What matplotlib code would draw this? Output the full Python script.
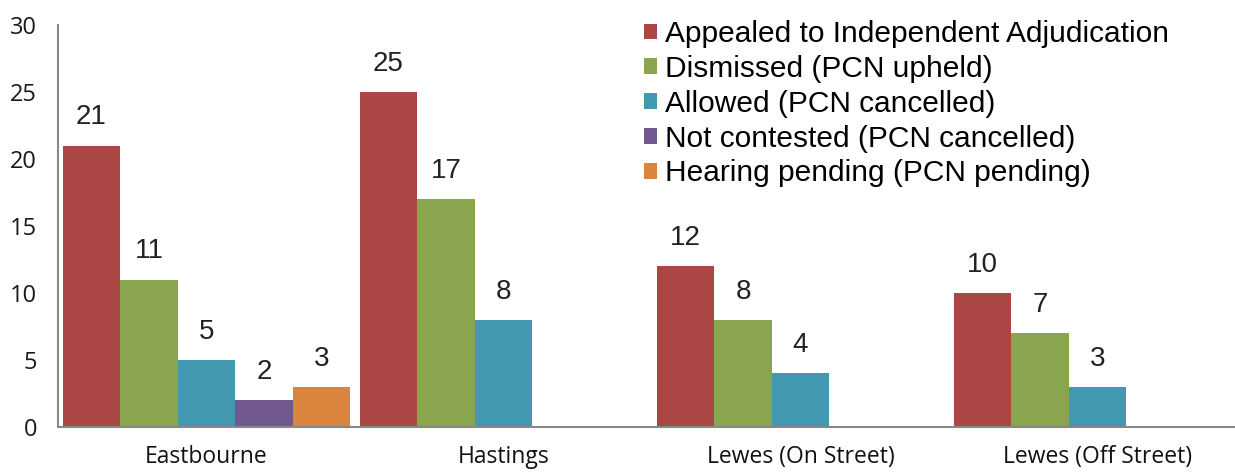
import numpy as np
import matplotlib.pyplot as plt

categories = ['Eastbourne', 'Hastings', 'Lewes (On Street)', 'Lewes (Off Street)']
series = ['Appealed to Independent Adjudication', 'Dismissed (PCN upheld)',
          'Allowed (PCN cancelled)', 'Not contested (PCN cancelled)',
          'Hearing pending (PCN pending)']
appealed = [21, 25, 12, 10]
dismissed = [11, 17, 8, 7]
allowed = [5, 8, 4, 3]
not_contested = [2, np.nan, np.nan, np.nan]
pending = [3, np.nan, np.nan, np.nan]
values = [appealed, dismissed, allowed, not_contested, pending]
colors = ['#AA4643', '#89A54E', '#4198AF', '#71588F', '#DB843D']

fig = plt.figure(figsize=(12.35, 4.73), dpi=100)
ax = fig.add_axes([58 / 1235, 46 / 473, 1188 / 1235, 402 / 473])

x = np.arange(len(categories))
w = 0.1936
for i, (name, vals, c) in enumerate(zip(series, values, colors)):
    pos = x + (i - 2) * w
    ax.bar(pos, vals, w, color=c, label=name)
    for p, v in zip(pos, vals):
        if not np.isnan(v):
            ax.annotate(f'{v:g}', (p, v), xytext=(0, 11), textcoords='offset points',
                        ha='center', va='bottom', fontsize=20, family='Liberation Sans',
                        color='#222222')

ax.set_xlim(-0.5, 3.5)
ax.set_ylim(0, 30)
ax.set_yticks(range(0, 31, 5))
ax.set_xticks(x)
ax.set_xticklabels(categories, family='Open Sans', fontsize=16.5)
for lab in ax.get_yticklabels():
    lab.set_family('Open Sans')
    lab.set_fontsize(17)
ax.tick_params(axis='y', length=0, pad=15, colors='#1a1a1a')
ax.tick_params(axis='x', length=0, pad=13, colors='#111111')
for s in ['top', 'right']:
    ax.spines[s].set_visible(False)
for s in ['left', 'bottom']:
    ax.spines[s].set_color('#888888')
    ax.spines[s].set_linewidth(1.5)

fig.legend(loc='upper left', bbox_to_anchor=(644 / 1235, 1 - 20 / 473), frameon=False,
           prop={'family': 'Liberation Sans', 'size': 21.5}, handlelength=0.42,
           handleheight=0.42, handletextpad=0.3, labelspacing=0.23, borderpad=0,
           borderaxespad=0)

fig.savefig('out.png', dpi=100)
